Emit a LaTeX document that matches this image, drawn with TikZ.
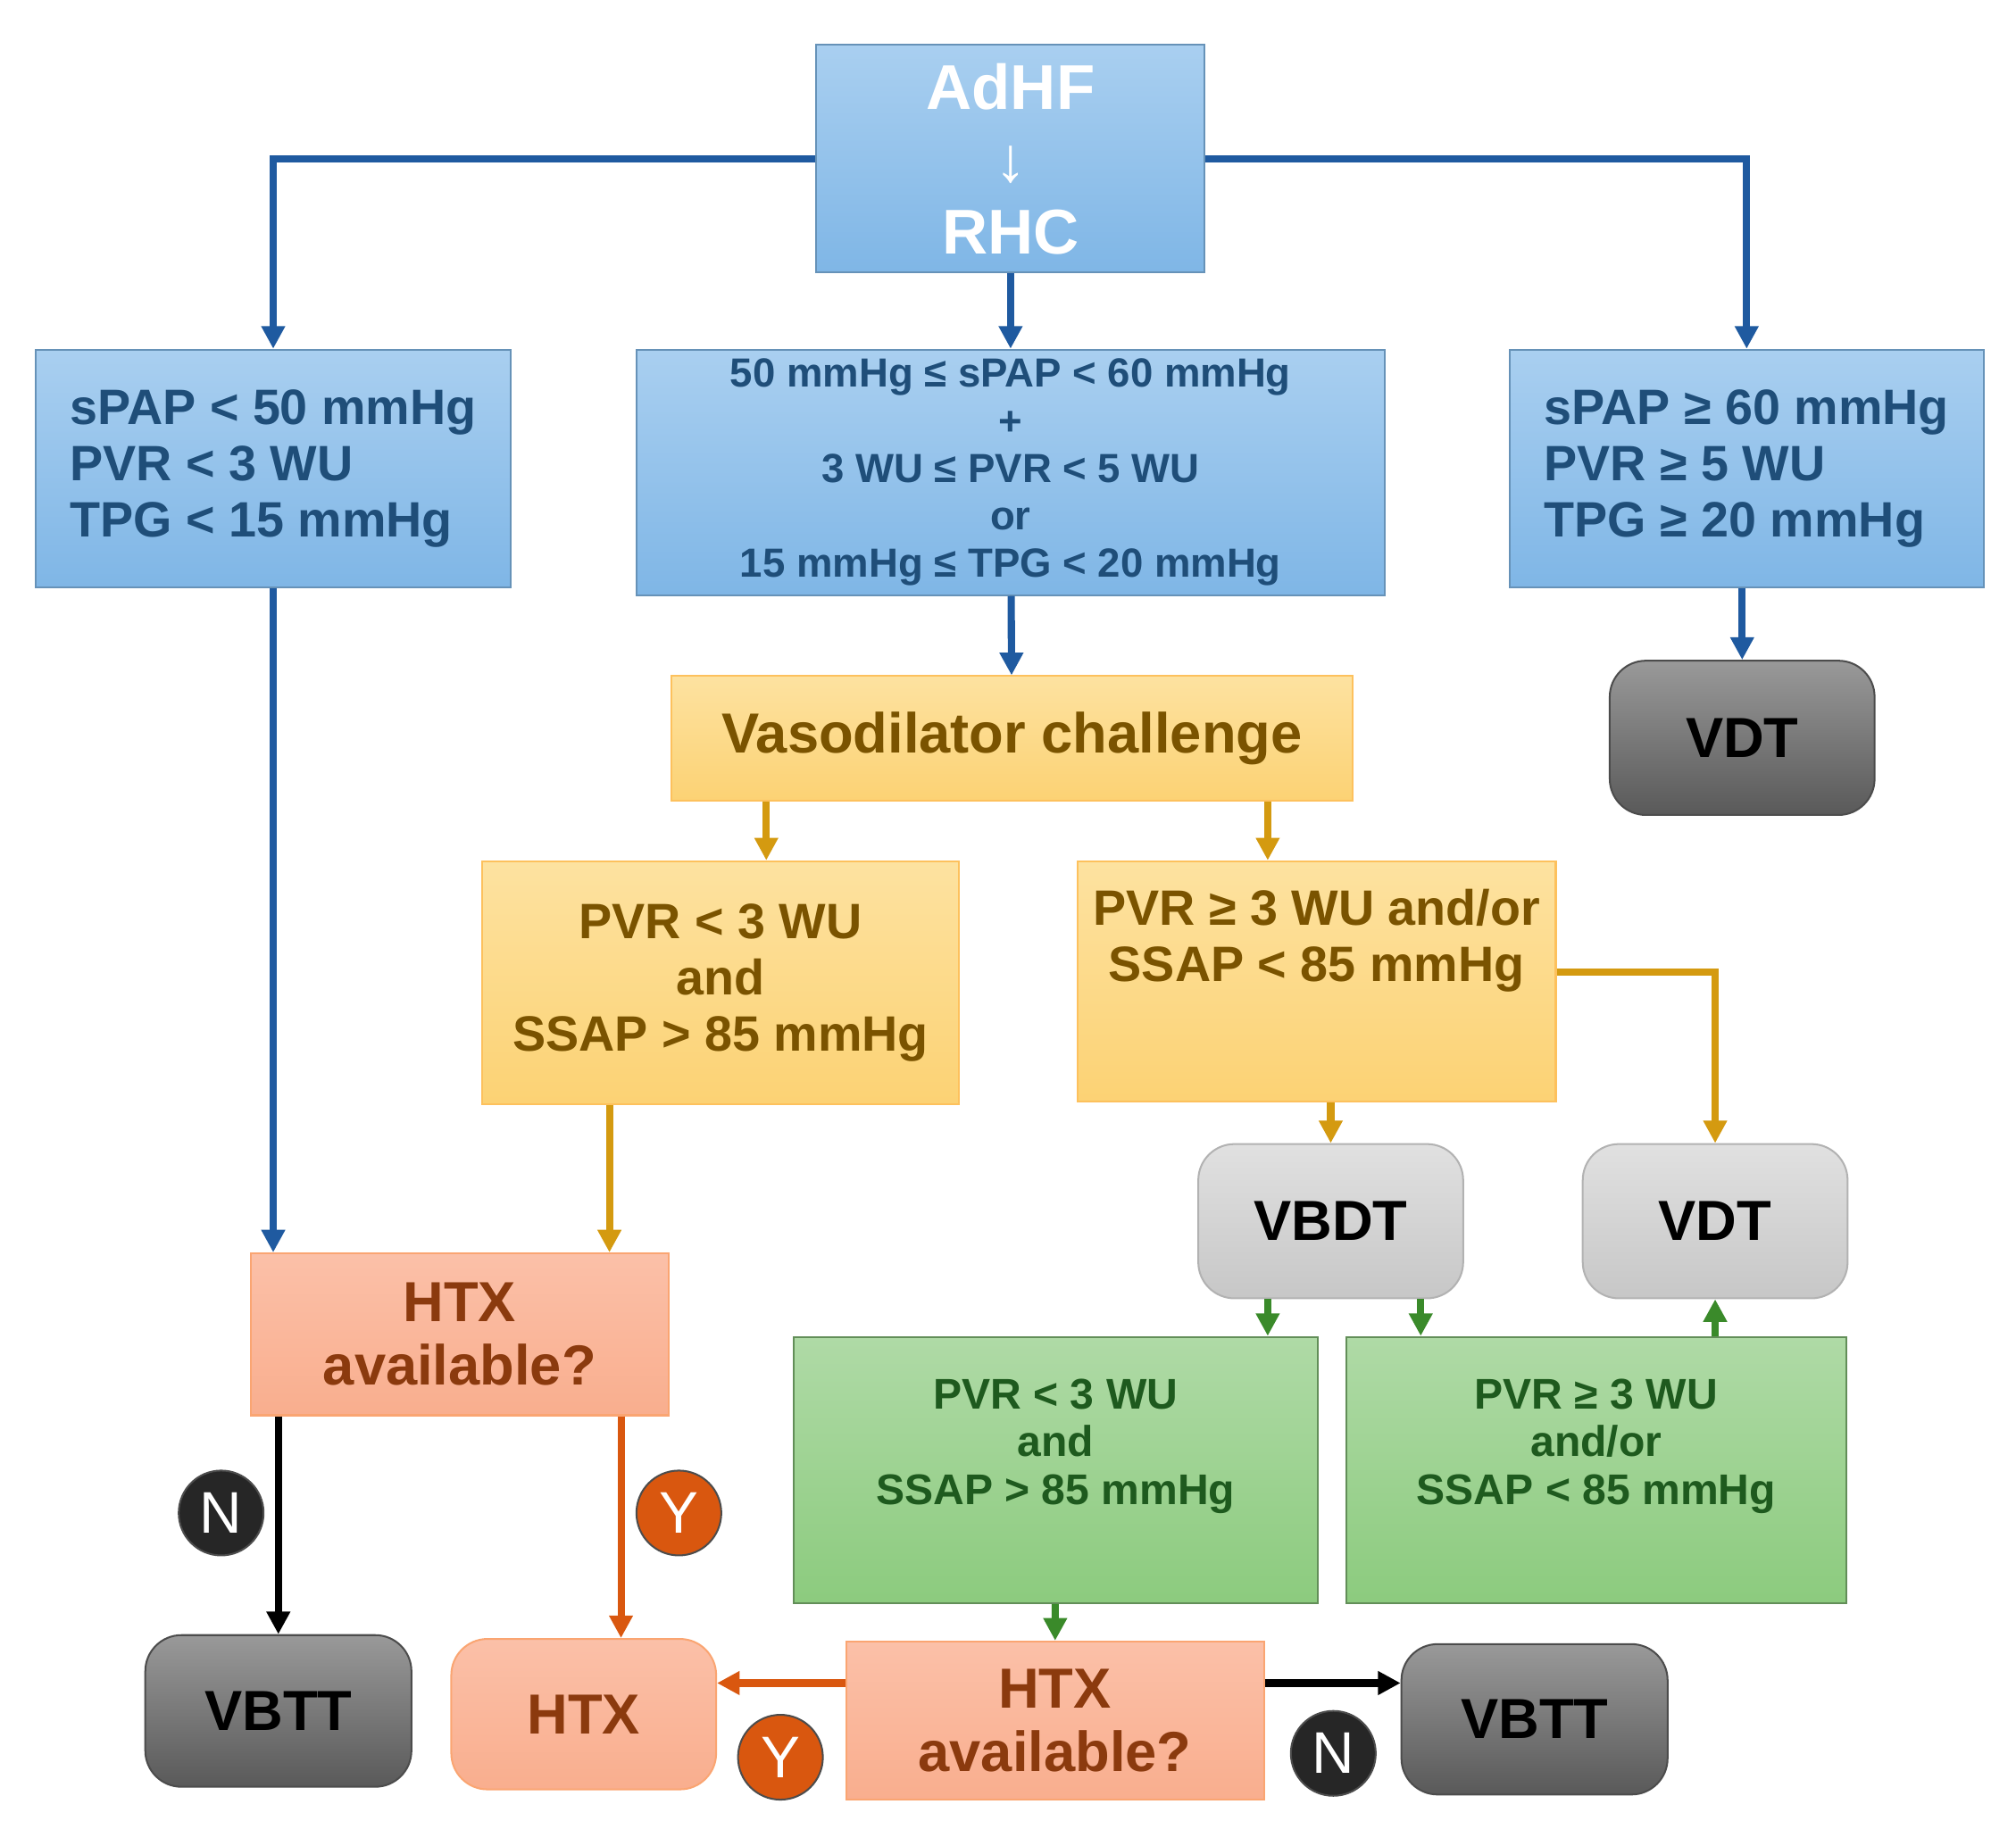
\documentclass[tikz,border=0pt]{standalone}
\usepackage{fontspec}
\setmainfont{Liberation Sans}
\usetikzlibrary{arrows.meta, calc}
\definecolor{bluetxt}{HTML}{1F4E79}
\definecolor{bluearr}{HTML}{1F5AA0}
\definecolor{bluetop}{HTML}{A9CFF0}
\definecolor{bluebot}{HTML}{7FB6E6}
\definecolor{goldtxt}{HTML}{7A5300}
\definecolor{goldarr}{HTML}{D49A10}
\definecolor{goldtop}{HTML}{FDE2A0}
\definecolor{goldbot}{HTML}{FCD274}
\definecolor{redtxt}{HTML}{8B3A0E}
\definecolor{redtop}{HTML}{FBC0A8}
\definecolor{redbot}{HTML}{F9AE8E}
\definecolor{orgarr}{HTML}{D9570F}
\definecolor{greentxt}{HTML}{1E5A1E}
\definecolor{greenarr}{HTML}{3A8A2A}
\definecolor{greentop}{HTML}{AFDAA6}
\definecolor{greenbot}{HTML}{8CCB7E}
\tikzset{
  box/.style={draw, align=center, font=\bfseries, inner sep=2pt},
  bluebox/.style={box, draw=bluebot!80!black, top color=bluetop, bottom color=bluebot, text=bluetxt},
  goldbox/.style={box, draw=goldbot!80!orange, top color=goldtop, bottom color=goldbot, text=goldtxt},
  redbox/.style={box, draw=redbot!80!orange, top color=redtop, bottom color=redbot, text=redtxt},
  greenbox/.style={box, draw=greenbot!70!black, top color=greentop, bottom color=greenbot, text=greentxt},
  darkbox/.style={box, rounded corners=8pt, draw=black!70, top color=black!40, bottom color=black!65, font=\bfseries\fontsize{12.5}{12.5}\selectfont},
  lightbox/.style={box, rounded corners=8pt, draw=black!30, top color=black!12, bottom color=black!22, font=\bfseries\fontsize{12.5}{12.5}\selectfont},
  arr/.style={-{Triangle[length=5pt,width=5pt]}, line width=1.6pt},
  answer/.style={circle, minimum size=0.66cm, inner sep=0pt, text=white, font=\fontsize{13}{13}\selectfont, draw=black!70},
}
\begin{document}
\begin{tikzpicture}
\useasboundingbox (0,0) rectangle (15.68,-14.36);
% first row
\node[bluebox, text=white, minimum width=3.02cm, minimum height=1.77cm, font=\bfseries\fontsize{14}{16}\selectfont] (adhf) at (7.86,-1.235) {AdHF\\↓\\RHC};
\node[bluebox, minimum width=3.69cm, minimum height=1.85cm, align=left, font=\bfseries\fontsize{11}{12.5}\selectfont] (lowp) at (2.125,-3.645) {sPAP < 50 mmHg\\PVR < 3 WU\\TPG < 15 mmHg\hspace{0.6cm}};
\node[bluebox, minimum width=5.82cm, minimum height=1.91cm, font=\bfseries\fontsize{9}{10.5}\selectfont] (midp) at (7.86,-3.675) {50 mmHg ≤ sPAP < 60 mmHg\\+\\3 WU ≤ PVR < 5 WU\\or\\15 mmHg ≤ TPG < 20 mmHg};
\node[bluebox, minimum width=3.69cm, minimum height=1.85cm, align=left, font=\bfseries\fontsize{11}{12.5}\selectfont] (highp) at (13.585,-3.645) {sPAP ≥ 60 mmHg\\PVR ≥ 5 WU\\TPG ≥ 20 mmHg\hspace{0.6cm}};
\node[darkbox, minimum width=2.06cm, minimum height=1.2cm] (vdta) at (13.55,-5.74) {VDT};
% vasodilator part
\node[goldbox, minimum width=5.3cm, minimum height=0.97cm, font=\bfseries\fontsize{12.5}{12.5}\selectfont] (vaso) at (7.87,-5.745) {Vasodilator challenge};
\node[goldbox, minimum width=3.71cm, minimum height=1.89cm, font=\bfseries\fontsize{11}{12.5}\selectfont] (resp) at (5.605,-7.645) {PVR < 3 WU\\and\\SSAP > 85 mmHg};
\node[goldbox, minimum width=3.72cm, minimum height=1.87cm, font=\bfseries\fontsize{11}{12.5}\selectfont] (nresp) at (10.24,-7.635) {PVR ≥ 3 WU and/or\\SSAP < 85 mmHg\\[8pt]};
\node[lightbox, minimum width=2.06cm, minimum height=1.2cm] (vbdt) at (10.35,-9.5) {VBDT};
\node[lightbox, minimum width=2.06cm, minimum height=1.2cm] (vdtb) at (13.34,-9.5) {VDT};
\node[redbox, minimum width=3.25cm, minimum height=1.26cm, font=\bfseries\fontsize{12.5}{14}\selectfont] (availa) at (3.575,-10.38) {HTX\\available?};
\node[greenbox, minimum width=4.08cm, minimum height=2.07cm, font=\bfseries\fontsize{9.5}{10.5}\selectfont] (goodg) at (8.21,-11.435) {PVR < 3 WU\\and\\SSAP > 85 mmHg\\[2pt]};
\node[greenbox, minimum width=3.89cm, minimum height=2.07cm, font=\bfseries\fontsize{9.5}{10.5}\selectfont] (badg) at (12.415,-11.435) {PVR ≥ 3 WU\\and/or\\SSAP < 85 mmHg\\[2pt]};
% bottom row
\node[darkbox, minimum width=2.07cm, minimum height=1.18cm] (vbtta) at (2.165,-13.31) {VBTT};
\node[redbox, rounded corners=8pt, minimum width=2.06cm, minimum height=1.17cm, font=\bfseries\fontsize{12.5}{12.5}\selectfont] (htx) at (4.54,-13.335) {HTX};
\node[redbox, minimum width=3.25cm, minimum height=1.23cm, font=\bfseries\fontsize{12.5}{14}\selectfont] (availb) at (8.205,-13.385) {HTX\\available?};
\node[darkbox, minimum width=2.07cm, minimum height=1.17cm] (vbttb) at (11.935,-13.375) {VBTT};
% connector ends
\coordinate (ra) at ([xshift=-0.865cm]resp.south);
\coordinate (rb) at ([xshift=1.255cm]availa.south);
\coordinate (rc) at ([yshift=-0.33cm]availb.north west);
\coordinate (rd) at ([yshift=-0.33cm]availb.north east);
% connectors
\draw[arr, bluearr] (adhf.west) -| (lowp.north);
\draw[arr, bluearr] (adhf.east) -| (highp.north);
\draw[arr, bluearr] (adhf) -- (midp);
\draw[arr, bluearr] (midp) -- (vaso);
\draw[arr, bluearr] (vdta.north |- highp.south) -- (vdta);
\draw[arr, bluearr] (lowp.south) -- (lowp.south |- availa.north);
\draw[arr, goldarr] ([xshift=-2.74cm]vaso.south) ++(0.83,0) coordinate (va) -- (va |- resp.north);
\draw[arr, goldarr] ([xshift=1.99cm]vaso.south) -- ([xshift=1.99cm]vaso.south |- nresp.north);
\draw[arr, goldarr] (ra) -- (ra |- availa.north);
\draw[arr, goldarr] (vbdt.north |- nresp.south) -- (vbdt.north);
\draw[arr, goldarr] ([yshift=0.07cm]nresp.east) -| (vdtb.north);
\draw[arr, greenarr] ([xshift=-0.49cm]vbdt.south) -- ([xshift=-0.49cm]vbdt.south |- goodg.north);
\draw[arr, greenarr] ([xshift=0.7cm]vbdt.south) -- ([xshift=0.7cm]vbdt.south |- badg.north);
\draw[arr, greenarr] (vdtb.south |- badg.north) -- (vdtb.south);
\draw[arr, greenarr] (goodg) -- (availb);
\draw[arr, black] (availa.south -| vbtta.north) -- (vbtta.north);
\draw[arr, orgarr] (rb) -- (rb |- htx.north);
\draw[arr, orgarr] (rc) -- (rc -| htx.east);
\draw[arr, black] (rd) -- (rd -| vbttb.west);
% labels
\node[answer, fill=black!85] (na) at (1.72,-11.77) {N};
\node[answer, fill=orgarr] (ya) at (5.28,-11.77) {Y};
\node[answer, fill=orgarr] (yb) at (6.07,-13.67) {Y};
\node[answer, fill=black!85] (nb) at (10.37,-13.64) {N};
\end{tikzpicture}
\end{document}
